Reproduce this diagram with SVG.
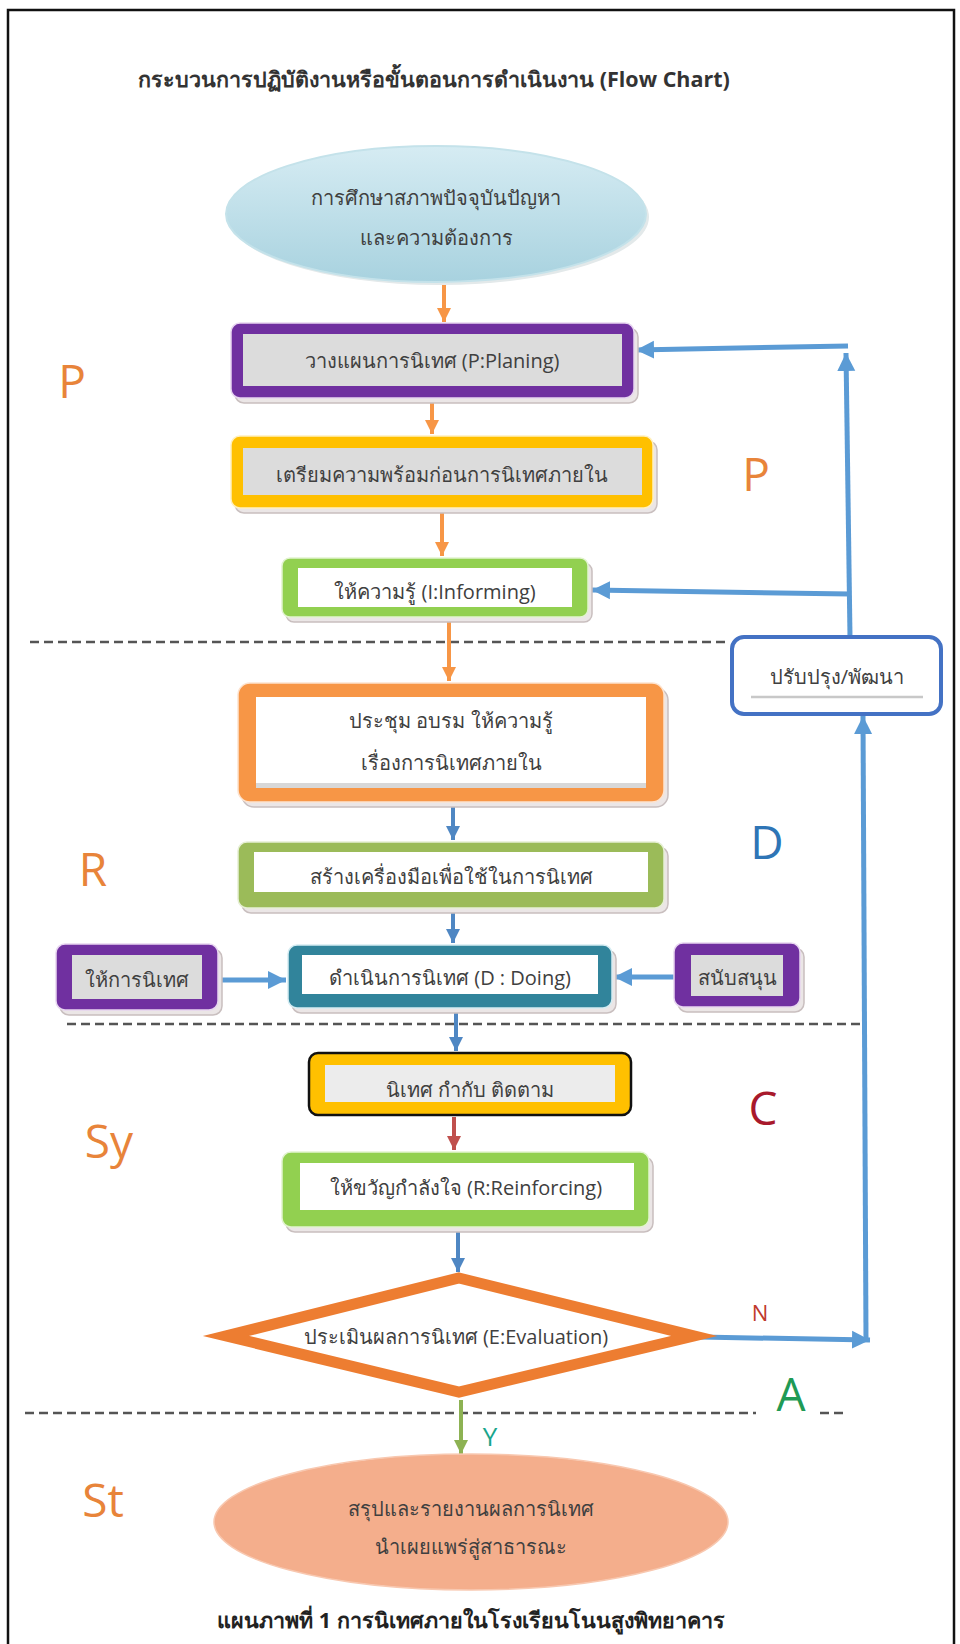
<svg xmlns="http://www.w3.org/2000/svg" width="960" height="1644" viewBox="0 0 960 1644">
<style>
text{font-family:"Open Sans","Noto Sans","DejaVu Sans",sans-serif;fill:#404040;text-anchor:middle;dominant-baseline:central}
.t{font-size:20px}
.title{font-size:21.5px;font-weight:bold;fill:#333}
.cap{font-size:21.5px;font-weight:bold;fill:#222}
.lab{font-size:46px}
.or{fill:#e8843a}
.sh{fill:#ebe6e6;stroke:#c9bfbf;stroke-width:1.5}
.gray{fill:#dcdcdc}
.white{fill:#fff}
.dash{stroke:#555;stroke-width:2.5;stroke-dasharray:9 5;fill:none}
.ca{fill:none;stroke:#f79646;stroke-width:4}
.cb{fill:none;stroke:#5b9bd5;stroke-width:5}
.cbt{fill:none;stroke:#4f87c3;stroke-width:4}
</style>
<defs>
<marker id="ao" markerUnits="userSpaceOnUse" markerWidth="16" markerHeight="16" refX="14" refY="8" orient="auto"><path d="M0,1 L14,8 L0,15 Z" fill="#f79646"/></marker>
<marker id="ab" markerUnits="userSpaceOnUse" markerWidth="20" markerHeight="20" refX="18" refY="10" orient="auto"><path d="M0,1 L18,10 L0,19 Z" fill="#5b9bd5"/></marker>
<marker id="abt" markerUnits="userSpaceOnUse" markerWidth="16" markerHeight="16" refX="14" refY="8" orient="auto"><path d="M0,1 L14,8 L0,15 Z" fill="#4f87c3"/></marker>
<marker id="ar" markerUnits="userSpaceOnUse" markerWidth="16" markerHeight="16" refX="14" refY="8" orient="auto"><path d="M0,1 L14,8 L0,15 Z" fill="#c0504d"/></marker>
<marker id="ag" markerUnits="userSpaceOnUse" markerWidth="16" markerHeight="16" refX="14" refY="8" orient="auto"><path d="M0,1 L14,8 L0,15 Z" fill="#8db253"/></marker>
<linearGradient id="gblue" x1="0" y1="0" x2="0" y2="1"><stop offset="0" stop-color="#d6ecf3"/><stop offset="1" stop-color="#a8d2df"/></linearGradient>
</defs>
<rect x="0" y="0" width="960" height="1644" fill="#fff"/>
<rect x="8" y="10" width="946" height="1660" fill="none" stroke="#111" stroke-width="2.5"/>
<text class="title" x="434" y="78">กระบวนการปฏิบัติงานหรือขั้นตอนการดำเนินงาน (Flow Chart)</text>

<g id="section-labels">
<text class="lab or" x="72" y="380">P</text>
<text class="lab or" x="756" y="473">P</text>
<text class="lab or" x="93" y="868">R</text>
<text class="lab" style="fill:#2e75b6" x="767" y="841">D</text>
<text class="lab or" x="109" y="1140">Sy</text>
<text class="lab" style="fill:#a8192c" x="763" y="1107">C</text>
<text class="lab or" x="103" y="1499">St</text>
<text class="lab" style="fill:#1f9a55" x="791" y="1393">A</text>
<text style="font-size:22px;fill:#c0392b" x="760" y="1312">N</text>
<text style="font-size:26px;fill:#1aa58c" x="490" y="1436">Y</text>
</g>

<g id="dividers">
<line class="dash" x1="30" y1="642" x2="729" y2="642"/>
<line class="dash" x1="67" y1="1024" x2="860" y2="1024"/>
<line class="dash" x1="25" y1="1413" x2="756" y2="1413"/>
<line class="dash" x1="820" y1="1413" x2="848" y2="1413"/>
</g>

<g id="connectors">
<line class="ca" x1="444" y1="285" x2="444" y2="322" marker-end="url(#ao)"/>
<line class="ca" x1="432" y1="398" x2="432" y2="434" marker-end="url(#ao)"/>
<line class="ca" x1="442" y1="510" x2="442" y2="556" marker-end="url(#ao)"/>
<line class="ca" x1="449" y1="619" x2="449" y2="681" marker-end="url(#ao)"/>
<line class="cbt" x1="453" y1="805" x2="453" y2="840" marker-end="url(#abt)"/>
<line class="cbt" x1="453" y1="911" x2="453" y2="943" marker-end="url(#abt)"/>
<line class="cb" x1="222" y1="980" x2="286" y2="980" marker-end="url(#ab)"/>
<line class="cb" x1="674" y1="977" x2="614" y2="977" marker-end="url(#ab)"/>
<line class="cbt" x1="456" y1="1010" x2="456" y2="1051" marker-end="url(#abt)"/>
<line fill="none" stroke="#c0504d" stroke-width="4" x1="454" y1="1117" x2="454" y2="1150" marker-end="url(#ar)"/>
<line class="cbt" x1="458" y1="1230" x2="458" y2="1272" marker-end="url(#abt)"/>
<line fill="none" stroke="#8db253" stroke-width="4" x1="461" y1="1400" x2="461" y2="1454" marker-end="url(#ag)"/>
<line class="cb" x1="700" y1="1337" x2="870" y2="1340" marker-end="url(#ab)"/>
<line class="cb" x1="866" y1="1340" x2="863" y2="716" marker-end="url(#ab)"/>
<line class="cb" x1="850" y1="637" x2="846" y2="353" marker-end="url(#ab)"/>
<line class="cb" x1="848" y1="346" x2="636" y2="350" marker-end="url(#ab)"/>
<line class="cb" x1="850" y1="594" x2="592" y2="590" marker-end="url(#ab)"/>
</g>

<g id="n-study">
<ellipse cx="439" cy="217" rx="210" ry="68" fill="#e3e9ea"/>
<ellipse cx="436" cy="214" rx="210" ry="68" fill="url(#gblue)" stroke="#c4e2ea" stroke-width="2"/>
<text class="t" x="436" y="197">การศึกษาสภาพปัจจุบันปัญหา</text>
<text class="t" x="436" y="237">และความต้องการ</text>
</g>

<g id="n-planning">
<rect class="sh" x="235" y="328" width="403" height="75" rx="9"/>
<rect x="231" y="323" width="403" height="75" rx="9" fill="#7030a0" stroke="#e7d5f0" stroke-width="1.5"/>
<rect class="gray" x="243" y="334" width="379" height="52"/>
<text class="t" x="432" y="360">วางแผนการนิเทศ (P:Planing)</text>
</g>

<g id="n-prepare">
<rect class="sh" x="235" y="441" width="422" height="72" rx="9"/>
<rect x="231" y="436" width="422" height="72" rx="9" fill="#ffc000" stroke="#fff0c0" stroke-width="1.5"/>
<rect class="gray" x="243" y="448" width="399" height="47"/>
<text class="t" x="442" y="474">เตรียมความพร้อมก่อนการนิเทศภายใน</text>
</g>

<g id="n-informing">
<rect class="sh" x="286" y="563" width="306" height="59" rx="8"/>
<rect x="282" y="558" width="306" height="59" rx="8" fill="#92d050" stroke="#e2f3d0" stroke-width="1.5"/>
<rect class="white" x="298" y="568" width="274" height="39"/>
<text class="t" x="435" y="591">ให้ความรู้ (I:Informing)</text>
</g>

<g id="n-improve">
<rect x="732" y="637" width="209" height="77" rx="12" fill="#fff" stroke="#4472c4" stroke-width="4"/>
<text class="t" x="837" y="676">ปรับปรุง/พัฒนา</text>
<line x1="751" y1="697" x2="923" y2="697" stroke="#c8c8c8" stroke-width="2.5"/>
</g>

<g id="n-training">
<rect class="sh" x="242" y="688" width="426" height="119" rx="12"/>
<rect x="238" y="683" width="426" height="119" rx="12" fill="#f79646" stroke="#fde3cf" stroke-width="1.5"/>
<rect class="white" x="256" y="697" width="390" height="91"/>
<rect x="256" y="783" width="390" height="5" fill="#d8d8d8"/>
<text class="t" x="451" y="720">ประชุม อบรม ให้ความรู้</text>
<text class="t" x="451" y="762">เรื่องการนิเทศภายใน</text>
</g>

<g id="n-tools">
<rect class="sh" x="242" y="847" width="426" height="66" rx="9"/>
<rect x="238" y="842" width="426" height="66" rx="9" fill="#9bbb59" stroke="#e6efd5" stroke-width="1.5"/>
<rect class="white" x="254" y="852" width="394" height="40"/>
<text class="t" x="451" y="876">สร้างเครื่องมือเพื่อใช้ในการนิเทศ</text>
</g>

<g id="n-give">
<rect class="sh" x="60" y="949" width="162" height="66" rx="9"/>
<rect x="56" y="944" width="162" height="66" rx="9" fill="#7030a0" stroke="#e7d5f0" stroke-width="1.5"/>
<rect class="gray" x="72" y="955" width="130" height="44"/>
<text class="t" x="137" y="979">ให้การนิเทศ</text>
</g>

<g id="n-doing">
<rect class="sh" x="292" y="950" width="324" height="63" rx="9"/>
<rect x="288" y="945" width="324" height="63" rx="9" fill="#31849b" stroke="#d5ecf2" stroke-width="1.5"/>
<rect class="white" x="302" y="955" width="296" height="39"/>
<text class="t" x="450" y="977">ดำเนินการนิเทศ (D : Doing)</text>
</g>

<g id="n-support">
<rect class="sh" x="678" y="948" width="126" height="64" rx="9"/>
<rect x="674" y="943" width="126" height="64" rx="9" fill="#7030a0" stroke="#e7d5f0" stroke-width="1.5"/>
<rect class="gray" x="691" y="955" width="92" height="41"/>
<text class="t" x="737" y="977">สนับสนุน</text>
</g>

<g id="n-monitor">
<rect x="309" y="1053" width="322" height="62" rx="9" fill="#ffc000" stroke="#111" stroke-width="2.5"/>
<rect x="325" y="1065" width="290" height="37" fill="#ececec"/>
<text class="t" x="470" y="1089">นิเทศ กำกับ ติดตาม</text>
</g>

<g id="n-reinforce">
<rect class="sh" x="286" y="1157" width="367" height="75" rx="9"/>
<rect x="282" y="1152" width="367" height="75" rx="9" fill="#92d050" stroke="#e2f3d0" stroke-width="1.5"/>
<rect class="white" x="300" y="1163" width="334" height="47"/>
<text class="t" x="466" y="1187">ให้ขวัญกำลังใจ (R:Reinforcing)</text>
</g>

<g id="n-evaluate">
<polygon points="459,1278 694,1336 459,1392 226,1336" fill="#fff" stroke="#ed7d31" stroke-width="11" stroke-linejoin="miter" stroke-miterlimit="10"/>
<text class="t" x="456" y="1336">ประเมินผลการนิเทศ (E:Evaluation)</text>
</g>

<g id="n-report">
<ellipse cx="471" cy="1522" rx="257" ry="68" fill="#f4ae8c" stroke="#f8c8b0" stroke-width="1.5"/>
<text class="t" x="471" y="1508">สรุปและรายงานผลการนิเทศ</text>
<text class="t" x="471" y="1546">นำเผยแพร่สู่สาธารณะ</text>
</g>

<text class="cap" x="471" y="1619">แผนภาพที่ 1 การนิเทศภายในโรงเรียนโนนสูงพิทยาคาร</text>
</svg>
